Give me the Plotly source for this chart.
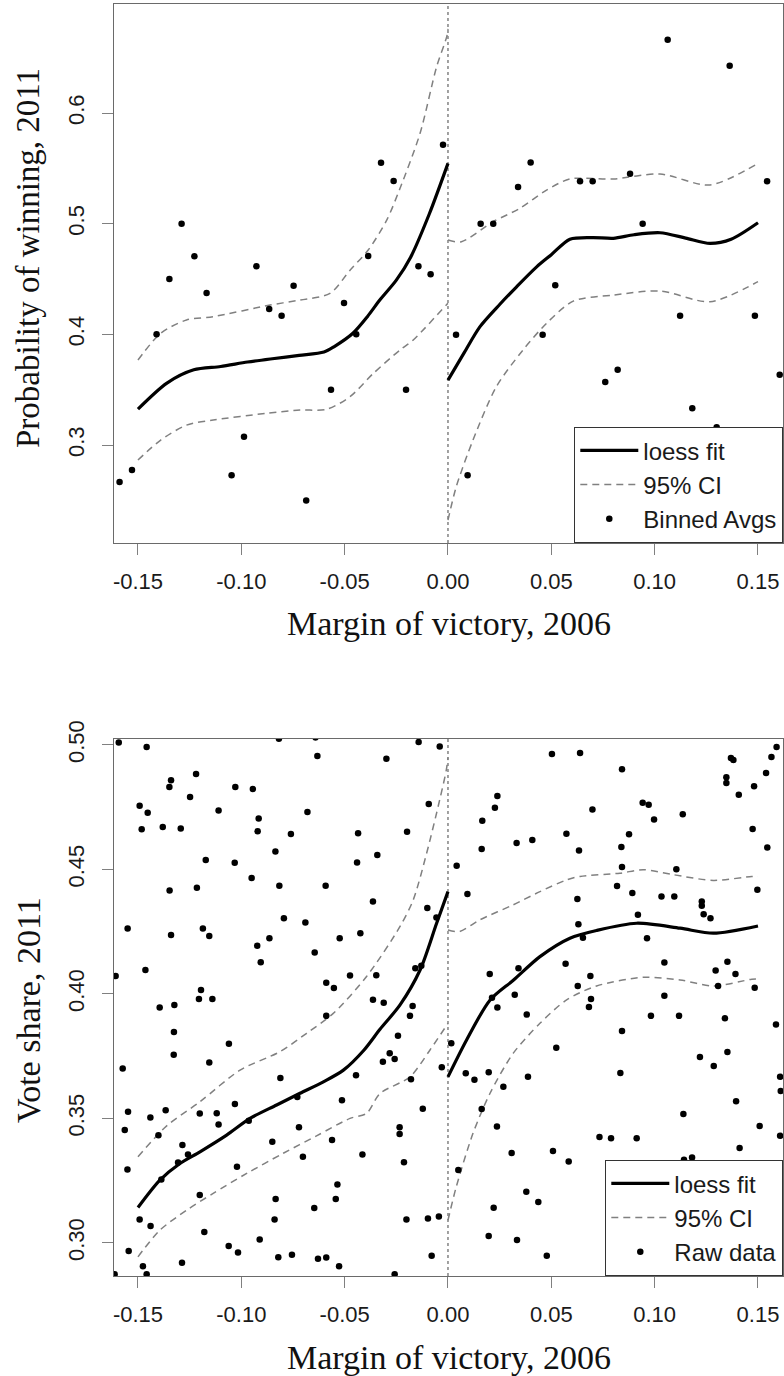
import plotly.graph_objects as go

# ---------------- data: top panel (probability of winning) ----------------
bin_x = [-0.1589, -0.1529, -0.1410, -0.1348, -0.1289, -0.1227, -0.1168, -0.1047, -0.0987, -0.0927,
         -0.0865, -0.0805, -0.0747, -0.0686, -0.0566, -0.0503, -0.0444, -0.0386, -0.0324, -0.0263,
         -0.0203, -0.0143, -0.0084, -0.0024, 0.0039, 0.0095, 0.0158, 0.0219, 0.0339, 0.0400,
         0.0458, 0.0519, 0.0639, 0.0700, 0.0761, 0.0821, 0.0881, 0.0942, 0.1063, 0.1123,
         0.1182, 0.1300, 0.1363, 0.1485, 0.1544, 0.1605]
bin_y = [0.2666, 0.2774, 0.4000, 0.4500, 0.5000, 0.4705, 0.4374, 0.2726, 0.3075, 0.4615,
         0.4229, 0.4168, 0.4440, 0.2500, 0.3500, 0.4283, 0.4000, 0.4708, 0.5550, 0.5386,
         0.3500, 0.4615, 0.4543, 0.5714, 0.3997, 0.2726, 0.5000, 0.5000, 0.5331, 0.5554,
         0.3997, 0.4443, 0.5383, 0.5383, 0.3570, 0.3680, 0.5452, 0.5000, 0.6662, 0.4168,
         0.3332, 0.3160, 0.6427, 0.4168, 0.5383, 0.3636]

win_fit_l_x = [-0.150, -0.136, -0.123, -0.110, -0.097, -0.085, -0.072, -0.060, -0.055, -0.046, -0.039, -0.033, -0.025, -0.018, -0.009, 0.000]
win_fit_l_y = [0.3325, 0.3560, 0.3680, 0.3710, 0.3750, 0.3780, 0.3810, 0.3840, 0.3890, 0.4010, 0.4160, 0.4310, 0.4490, 0.4700, 0.5090, 0.5545]
win_fit_r_x = [0.000, 0.008, 0.0155, 0.025, 0.0332, 0.0429, 0.050, 0.059, 0.070, 0.080, 0.090, 0.1026, 0.115, 0.1268, 0.137, 0.150]
win_fit_r_y = [0.3587, 0.3840, 0.4070, 0.4270, 0.4430, 0.4610, 0.4720, 0.4860, 0.4875, 0.4868, 0.4900, 0.4918, 0.4870, 0.4822, 0.4860, 0.5009]

win_up_l_x = [-0.150, -0.139, -0.1265, -0.1136, -0.0861, -0.0716, -0.0571, -0.0474, -0.0386, -0.0297, -0.0232, -0.0135, -0.0055, -0.0006, 0.000]
win_up_l_y = [0.3768, 0.4010, 0.4130, 0.4160, 0.4265, 0.4310, 0.4370, 0.4580, 0.4762, 0.5030, 0.5320, 0.5817, 0.6418, 0.6690, 0.6760]
win_lo_l_x = [-0.150, -0.139, -0.1265, -0.1136, -0.0877, -0.0716, -0.0587, -0.0474, -0.0361, -0.0232, -0.0168, -0.0006, 0.000]
win_lo_l_y = [0.2865, 0.3045, 0.3180, 0.3226, 0.3287, 0.3316, 0.3323, 0.3437, 0.3648, 0.3859, 0.3949, 0.4270, 0.4280]
win_up_r_x = [0.000, 0.0065, 0.0219, 0.0348, 0.0477, 0.059, 0.080, 0.1026, 0.1268, 0.150]
win_up_r_y = [0.4852, 0.4837, 0.5018, 0.5139, 0.5304, 0.5404, 0.5404, 0.5449, 0.5350, 0.5545]
win_lo_r_x = [0.000, 0.004, 0.0121, 0.0234, 0.0363, 0.0477, 0.0606, 0.080, 0.1026, 0.1268, 0.150]
win_lo_r_y = [0.2322, 0.2623, 0.3045, 0.3527, 0.3859, 0.4100, 0.4300, 0.4355, 0.4392, 0.4295, 0.4476]

# ---------------- data: bottom panel (vote share) ----------------
raw_x = [-0.1593, -0.1458, -0.1219, -0.1340, -0.1348, -0.1029, -0.0944, -0.0632, -0.0298, -0.0818,
         -0.0641, -0.1248, -0.1492, -0.1453, -0.1482, -0.1380, -0.1293, -0.1110, -0.0916, -0.0921,
         -0.0760, -0.0680, -0.0435, -0.0835, -0.0342, -0.1172, -0.1032, -0.0440, -0.0950, -0.0816,
         -0.0592, -0.1347, -0.1215,
         -0.0363, -0.1550, -0.1340, -0.1186, -0.1155, -0.0794, -0.0690, -0.0923, -0.0864, -0.0524,
         -0.0424, -0.0645, -0.0906, -0.1464, -0.1608, -0.0474, -0.0347, -0.0589, -0.0552, -0.1195,
         -0.1205, -0.1140, -0.0363, -0.0311, -0.1395, -0.1324, -0.0589, -0.1326, -0.1060, -0.0242,
         -0.1327, -0.1155, -0.0315, -0.0282, -0.0258, -0.1574, -0.0811, -0.0445, -0.1031, -0.0513,
         -0.0729, -0.1548, -0.1366, -0.1201, -0.1119, -0.1440, -0.1110, -0.0964, -0.1564, -0.0721,
         -0.1401,
         -0.1285, -0.1258, -0.1306, -0.1551, -0.1387, -0.0850, -0.0561, -0.0414, -0.0702, -0.1021,
         -0.0535, -0.0543, -0.0647, -0.0834, -0.1201, -0.0839, -0.1492, -0.1439, -0.1179, -0.0911,
         -0.1061, -0.1016, -0.1545, -0.0821, -0.0755, -0.0629, -0.0589, -0.1287, -0.1476, -0.0527,
         -0.1458, -0.1613, -0.0258,
         -0.0142, -0.0040, 0.0503, 0.0639, 0.0842, 0.1369, 0.1381, 0.1590, 0.1565, 0.1539,
         0.1347, 0.1347, 0.1481, 0.1407, 0.0239, 0.0227, -0.0093, 0.0942, 0.0971, 0.0699,
         0.1136, 0.0997, 0.0166, -0.0198, 0.0573, 0.0876, 0.1474, 0.0163, 0.0332, 0.0408,
         0.0634, 0.0839, 0.1545, 0.0042, 0.0842, 0.1105, 0.0818, 0.0094, 0.0892, 0.1033,
         0.1095, 0.1497,
         0.0626, 0.1228, 0.1228, 0.1237, 0.1270, 0.0919, 0.0631, 0.0653, 0.0963, -0.0100,
         -0.0056, 0.0569, 0.1047, 0.1352, 0.1295, 0.1391, -0.0158, -0.0129, 0.0202, 0.0341,
         0.0689, 0.0628, 0.1307, 0.1484, 0.0213, 0.0239, 0.0323, 0.0692, 0.0682, 0.1047,
         -0.0171, -0.0184, 0.0381, 0.0982, 0.1118, 0.1340, 0.1587, 0.0842, 0.0016, 0.0524,
         0.1219, 0.1352, 0.1286, -0.0030, 0.0086, 0.0128, 0.0197, 0.0268, 0.0387, 0.0834,
         0.1607, -0.0179, -0.0122, 0.0163, 0.1394, 0.1139, -0.0234, -0.0234, 0.0237, 0.1508,
         0.0733, 0.0789, 0.0913, 0.1610,
         0.1607, -0.0213, 0.0308, 0.0508, 0.0584, 0.1411, 0.1142, 0.1181, 0.0050, 0.0379,
         0.0437, 0.0221, -0.0201, -0.0097, -0.0044, 0.0197, 0.0334, -0.0079, 0.0478]
raw_y = [0.5010, 0.4992, 0.4883, 0.4858, 0.4831, 0.4831, 0.4823, 0.4956, 0.4945, 0.5025,
         0.5030, 0.4791, 0.4756, 0.4728, 0.4661, 0.4671, 0.4665, 0.4737, 0.4705, 0.4653,
         0.4642, 0.4731, 0.4645, 0.4572, 0.4558, 0.4538, 0.4527, 0.4528, 0.4466, 0.4435,
         0.4435, 0.4415, 0.4427,
         0.4371, 0.4263, 0.4237, 0.4263, 0.4233, 0.4304, 0.4287, 0.4194, 0.4224, 0.4224,
         0.4244, 0.4166, 0.4127, 0.4096, 0.4072, 0.4074, 0.4075, 0.4045, 0.4024, 0.4016,
         0.3980, 0.3980, 0.3977, 0.3965, 0.3945, 0.3956, 0.3912, 0.3847, 0.3800, 0.3832,
         0.3756, 0.3725, 0.3728, 0.3762, 0.3739, 0.3700, 0.3662, 0.3673, 0.3558, 0.3573,
         0.3586, 0.3527, 0.3533, 0.3520, 0.3521, 0.3504, 0.3476, 0.3491, 0.3453, 0.3464,
         0.3432,
         0.3393, 0.3355, 0.3323, 0.3295, 0.3255, 0.3406, 0.3413, 0.3355, 0.3346, 0.3306,
         0.3235, 0.3176, 0.3140, 0.3176, 0.3192, 0.3094, 0.3094, 0.3068, 0.3044, 0.3014,
         0.2988, 0.2961, 0.2967, 0.2942, 0.2952, 0.2936, 0.2941, 0.2920, 0.2906, 0.2906,
         0.2874, 0.2874, 0.2874,
         0.5012, 0.4994, 0.4964, 0.4968, 0.4902, 0.4948, 0.4940, 0.4992, 0.4952, 0.4887,
         0.4870, 0.4847, 0.4834, 0.4800, 0.4795, 0.4748, 0.4763, 0.4768, 0.4760, 0.4741,
         0.4722, 0.4701, 0.4696, 0.4651, 0.4643, 0.4641, 0.4662, 0.4582, 0.4606, 0.4618,
         0.4576, 0.4590, 0.4588, 0.4515, 0.4510, 0.4501, 0.4434, 0.4401, 0.4405, 0.4391,
         0.4391, 0.4418,
         0.4381, 0.4371, 0.4354, 0.4320, 0.4304, 0.4318, 0.4280, 0.4226, 0.4224, 0.4345,
         0.4307, 0.4121, 0.4126, 0.4129, 0.4094, 0.4080, 0.4103, 0.4113, 0.4080, 0.4103,
         0.4072, 0.4032, 0.4032, 0.4025, 0.3985, 0.3946, 0.3997, 0.3980, 0.3948, 0.3993,
         0.3952, 0.3912, 0.3917, 0.3912, 0.3912, 0.3902, 0.3877, 0.3851, 0.3802, 0.3784,
         0.3747, 0.3767, 0.3711, 0.3705, 0.3681, 0.3655, 0.3685, 0.3627, 0.3667, 0.3682,
         0.3667, 0.3657, 0.3539, 0.3538, 0.3569, 0.3518, 0.3464, 0.3437, 0.3468, 0.3470,
         0.3425, 0.3420, 0.3420, 0.3610,
         0.3430, 0.3324, 0.3361, 0.3369, 0.3327, 0.3381, 0.3334, 0.3343, 0.3293, 0.3205,
         0.3164, 0.3141, 0.3094, 0.3098, 0.3106, 0.3028, 0.3012, 0.2948, 0.2948]

vote_fit_l_x = [-0.150, -0.1394, -0.1297, -0.120, -0.1071, -0.0958, -0.0829, -0.0716, -0.0603, -0.0506, -0.0406, -0.0329, -0.0232, -0.0135, -0.0055, 0.000]
vote_fit_l_y = [0.3142, 0.3252, 0.3319, 0.3366, 0.3433, 0.3500, 0.3554, 0.3601, 0.3647, 0.3694, 0.3775, 0.3858, 0.3956, 0.4096, 0.4284, 0.4411]
vote_fit_r_x = [0.000, 0.009, 0.0203, 0.0316, 0.0445, 0.059, 0.0719, 0.0913, 0.1123, 0.1284, 0.150]
vote_fit_r_y = [0.3667, 0.3815, 0.3975, 0.4055, 0.4150, 0.4224, 0.4255, 0.4284, 0.4264, 0.4244, 0.4273]

vote_up_l_x = [-0.150, -0.1361, -0.120, -0.1006, -0.0813, -0.0684, -0.0555, -0.0394, -0.0232, -0.0168, -0.0103, -0.0040, -0.0008, 0.000]
vote_up_l_y = [0.3346, 0.3470, 0.3567, 0.3694, 0.3768, 0.3842, 0.3922, 0.4070, 0.4271, 0.4378, 0.4566, 0.4780, 0.4900, 0.4950]
vote_lo_l_x = [-0.150, -0.1394, -0.1265, -0.1136, -0.0974, -0.0797, -0.0636, -0.0474, -0.0394, -0.0329, -0.0184, -0.0087, 0.000]
vote_lo_l_y = [0.2944, 0.3051, 0.3131, 0.3199, 0.3279, 0.3360, 0.3430, 0.3500, 0.3520, 0.3600, 0.3667, 0.3775, 0.3882]
vote_up_r_x = [0.000, 0.0056, 0.0155, 0.0316, 0.0445, 0.0574, 0.0639, 0.0832, 0.0945, 0.109, 0.1284, 0.147, 0.150]
vote_up_r_y = [0.4257, 0.4251, 0.4298, 0.4358, 0.4411, 0.4458, 0.4472, 0.4485, 0.4499, 0.4479, 0.4456, 0.4472, 0.4472]
vote_lo_r_x = [0.000, 0.004, 0.0121, 0.0203, 0.0316, 0.0445, 0.0574, 0.0719, 0.0945, 0.1123, 0.1284, 0.147, 0.150]
vote_lo_r_y = [0.3091, 0.3225, 0.3440, 0.3600, 0.3762, 0.3882, 0.3976, 0.4032, 0.4067, 0.4056, 0.4032, 0.4059, 0.4060]

x_ticks = [-0.15, -0.10, -0.05, 0.00, 0.05, 0.10, 0.15]
x_tick_text = ["-0.15", "-0.10", "-0.05", "0.00", "0.05", "0.10", "0.15"]
win_ticks = [0.3, 0.4, 0.5, 0.6]
win_tick_text = ["0.3", "0.4", "0.5", "0.6"]
vote_ticks = [0.30, 0.35, 0.40, 0.45, 0.50]
vote_tick_text = ["0.30", "0.35", "0.40", "0.45", "0.50"]

# ---------------- styling ----------------
FIT = dict(color="black", width=3.2, shape="spline", smoothing=0.8)
CI = dict(color="#808080", width=1.5, dash="7px,5px", shape="spline", smoothing=0.8)
SANS = "Liberation Sans, Arial, Helvetica, sans-serif"
SERIF = "Liberation Serif, Times New Roman, serif"

fig = go.Figure()

def add_panel(xa, ya, leg, fit_l, fit_r, ci_lines, px, py, pname):
    fig.add_trace(go.Scatter(x=fit_l[0], y=fit_l[1], mode="lines", line=FIT, name="loess fit",
                             xaxis=xa, yaxis=ya, legend=leg, showlegend=True))
    fig.add_trace(go.Scatter(x=fit_r[0], y=fit_r[1], mode="lines", line=FIT, name="loess fit",
                             xaxis=xa, yaxis=ya, legend=leg, showlegend=False))
    for i, (cx, cy) in enumerate(ci_lines):
        fig.add_trace(go.Scatter(x=cx, y=cy, mode="lines", line=CI, name="95% CI",
                                 xaxis=xa, yaxis=ya, legend=leg, showlegend=(i == 0)))
    fig.add_trace(go.Scatter(x=px, y=py, mode="markers", name=pname,
                             marker=dict(color="black", size=6.5),
                             xaxis=xa, yaxis=ya, legend=leg, showlegend=True))

add_panel("x", "y", "legend",
          (win_fit_l_x, win_fit_l_y), (win_fit_r_x, win_fit_r_y),
          [(win_up_l_x, win_up_l_y), (win_lo_l_x, win_lo_l_y),
           (win_up_r_x, win_up_r_y), (win_lo_r_x, win_lo_r_y)],
          bin_x, bin_y, "Binned Avgs")
add_panel("x2", "y2", "legend2",
          (vote_fit_l_x, vote_fit_l_y), (vote_fit_r_x, vote_fit_r_y),
          [(vote_up_l_x, vote_up_l_y), (vote_lo_l_x, vote_lo_l_y),
           (vote_up_r_x, vote_up_r_y), (vote_lo_r_x, vote_lo_r_y)],
          raw_x, raw_y, "Raw data")

TOP_DOM = [0.57626, 1.0]
BOT_DOM = [0.0, 0.42217]

axis_common = dict(showline=True, linecolor="#6a6a6a", linewidth=1.3, mirror=True,
                   ticks="outside", ticklen=11, tickwidth=1.3, tickcolor="#808080",
                   showgrid=False, zeroline=False, automargin=False,
                   tickfont=dict(family=SANS, size=22, color="#1a1a1a"))

LEG = dict(x=1, xanchor="right", yanchor="bottom",
           bgcolor="white", bordercolor="#333333", borderwidth=1.3,
           font=dict(family=SANS, size=24, color="#1a1a1a"),
           itemwidth=58, tracegroupgap=0, traceorder="normal")

fig.update_layout(
    width=784, height=1376,
    margin=dict(l=114, r=1, t=4, b=100, autoexpand=False),
    paper_bgcolor="white", plot_bgcolor="white",
    xaxis=dict(domain=[0, 1], anchor="y", range=[-0.1616, 0.1621],
               tickvals=x_ticks, ticktext=x_tick_text, ticklabelstandoff=7, **axis_common),
    yaxis=dict(domain=TOP_DOM, anchor="x", range=[0.2115, 0.6985],
               tickvals=win_ticks, ticktext=win_tick_text, tickangle=-90, ticklabelstandoff=9, **axis_common),
    xaxis2=dict(domain=[0, 1], anchor="y2", range=[-0.1616, 0.1621],
                tickvals=x_ticks, ticktext=x_tick_text, ticklabelstandoff=7, **axis_common),
    yaxis2=dict(domain=BOT_DOM, anchor="x2", range=[0.2867, 0.5024],
                tickvals=vote_ticks, ticktext=vote_tick_text, tickangle=-90, ticklabelstandoff=9, **axis_common),
    legend=dict(y=TOP_DOM[0], **LEG),
    legend2=dict(y=BOT_DOM[0], **LEG),
    showlegend=True,
)

for xr, yd in (("x", "y domain"), ("x2", "y2 domain")):
    fig.add_shape(type="line", xref=xr, yref=yd, x0=0, x1=0, y0=0, y1=1,
                  line=dict(color="#6f6f6f", width=1.3, dash="dot"), layer="below")

# axis titles
TITLE_FONT = dict(family=SERIF, size=34, color="#111111")
H = 1272.0
def py2paper(py):
    return (1276.0 - py) / H

fig.add_annotation(text="Margin of victory, 2006", xref="paper", yref="paper",
                   x=0.5, y=py2paper(623), xanchor="center", yanchor="middle",
                   showarrow=False, font=TITLE_FONT)
fig.add_annotation(text="Margin of victory, 2006", xref="paper", yref="paper",
                   x=0.5, y=py2paper(1357), xanchor="center", yanchor="middle",
                   showarrow=False, font=TITLE_FONT)
fig.add_annotation(text="Probability of winning, 2011", xref="paper", yref="paper",
                   x=0, xshift=-86, y=py2paper(258), xanchor="center", yanchor="middle",
                   textangle=-90, showarrow=False, font=dict(family=SERIF, size=33, color="#111111"))
fig.add_annotation(text="Vote share, 2011", xref="paper", yref="paper",
                   x=0, xshift=-86, y=py2paper(1010), xanchor="center", yanchor="middle",
                   textangle=-90, showarrow=False, font=TITLE_FONT)

fig.write_html("out.html", config={"displayModeBar": False},
               post_script="document.body.style.margin='0';document.body.style.overflow='hidden';")
